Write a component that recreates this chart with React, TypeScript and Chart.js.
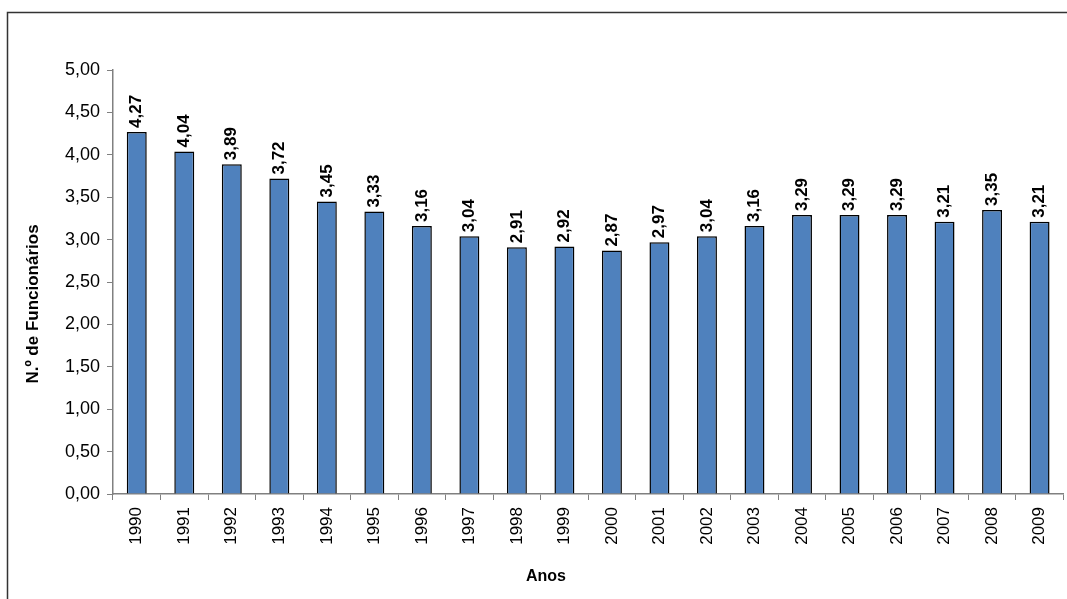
import React, { useEffect, useRef } from "react";
import { Chart, registerables } from "chart.js";

Chart.register(...registerables);

const years: string[] = ["1990","1991","1992","1993","1994","1995","1996","1997","1998","1999","2000","2001","2002","2003","2004","2005","2006","2007","2008","2009"];
const values: number[] = [4.27,4.04,3.89,3.72,3.45,3.33,3.16,3.04,2.91,2.92,2.87,2.97,3.04,3.16,3.29,3.29,3.29,3.21,3.35,3.21];
const yTitle = "N.º de Funcionários";
const xTitle = "Anos";

const FONT = "'Liberation Sans', Arial, sans-serif";
const fmt = (v: number) => v.toFixed(2).replace(".", ",");

const framePlugin = {
  id: "frame",
  beforeDraw(chart: any) {
    const ctx = chart.ctx;
    ctx.save();
    ctx.fillStyle = "#ffffff";
    ctx.fillRect(0, 0, chart.width, chart.height);
    ctx.strokeStyle = "#333333";
    ctx.lineWidth = 1.5;
    ctx.strokeRect(7.5, 12.5, chart.width + 20, chart.height + 20);
    ctx.restore();
  },
};

const labelPlugin = {
  id: "barLabels",
  afterDatasetsDraw(chart: any) {
    const ctx = chart.ctx;
    const meta = chart.getDatasetMeta(0);
    ctx.save();
    ctx.font = `bold 17px ${FONT}`;
    ctx.fillStyle = "#000000";
    ctx.textAlign = "left";
    ctx.textBaseline = "middle";
    meta.data.forEach((bar: any, i: number) => {
      ctx.save();
      ctx.translate(bar.x, bar.y - 4);
      ctx.rotate(-Math.PI / 2);
      ctx.fillText(fmt(values[i]), 0, 0);
      ctx.restore();
    });
    // axis titles
    ctx.textAlign = "center";
    ctx.textBaseline = "middle";
    ctx.save();
    ctx.font = `bold 17px ${FONT}`;
    ctx.translate(33, 304);
    ctx.rotate(-Math.PI / 2);
    ctx.fillText(yTitle, 0, 0);
    ctx.restore();
    ctx.font = `bold 16px ${FONT}`;
    ctx.fillText(xTitle, 546, 577);
    ctx.restore();
  },
};

export default function App() {
  const ref = useRef<HTMLCanvasElement | null>(null);
  useEffect(() => {
    if (!ref.current) return;
    const chart = new Chart(ref.current, {
      type: "bar",
      data: {
        labels: years,
        datasets: [
          {
            data: values,
            backgroundColor: "#4F81BD",
            borderColor: "#000000",
            borderWidth: 1.5,
            barPercentage: 0.42,
            categoryPercentage: 1,
          },
        ],
      },
      options: {
        responsive: false,
        animation: false,
        devicePixelRatio: 1,
        layout: { padding: { left: 0, top: 70, right: 1, bottom: 0 } },
        plugins: { legend: { display: false }, tooltip: { enabled: false } },
        scales: {
          x: {
            offset: true,
            grid: { display: true, drawOnChartArea: false, drawTicks: true, tickLength: 6, color: "#808080", offset: true },
            border: { display: true, color: "#808080", width: 1.5 },
            ticks: { color: "#000", font: { family: FONT, size: 17 }, minRotation: 90, maxRotation: 90, padding: 7, autoSkip: false },
            title: { display: false },
            afterFit: (s: any) => { s.height = 105; },
          },
          y: {
            min: 0,
            max: 5,
            grid: { display: true, drawOnChartArea: false, drawTicks: true, tickLength: 6, color: "#808080" },
            border: { display: true, color: "#808080", width: 1.5 },
            ticks: { stepSize: 0.5, color: "#000", font: { family: FONT, size: 18 }, padding: 7, callback: (v: any) => fmt(Number(v)) },
            title: { display: false },
            afterFit: (s: any) => { s.width = 113; },
          },
        },
      },
      plugins: [framePlugin, labelPlugin],
    });
    return () => chart.destroy();
  }, []);
  return (
    <div style={{ position: "fixed", left: 0, top: 0, width: 1067, height: 599 }}>
      <canvas ref={ref} width={1067} height={599} style={{ width: 1067, height: 599, display: "block" }} />
    </div>
  );
}
